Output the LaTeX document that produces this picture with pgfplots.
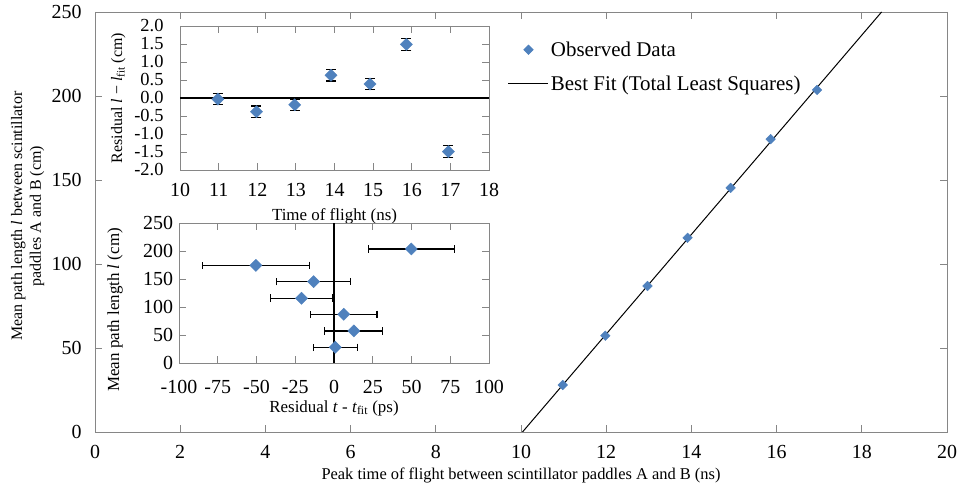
\documentclass[border=0pt]{standalone}
\usepackage{fontspec}
\setmainfont{Liberation Serif}
\usepackage{pgfplots}
\usepackage{pgfplotstable}
\pgfplotsset{compat=1.18}
\definecolor{obs}{RGB}{79,129,189}
\definecolor{framec}{RGB}{134,134,134}

\pgfplotstableread{
t l
10.98 28.0
11.98 57.3
12.97 86.9
13.91 115.6
14.92 145.3
15.86 174.3
16.95 203.6
}\maindata

\pgfplotstableread{
t res
10.98 -0.03
11.98 -0.38
12.97 -0.19
13.91 0.63
14.92 0.39
15.86 1.49
16.95 -1.49
}\resl

\pgfplotstableread{
r l e
0.8 28.0 14.2
12.8 57.3 18.7
6.3 86.9 21.5
-21.0 115.6 19.8
-13.2 145.3 24.0
-50.4 174.3 34.6
49.9 203.6 27.6
}\rest

\pgfplotsset{
  myaxis/.style={
    scale only axis,
    anchor=south west,
    axis line style={framec, line width=0.8bp},
    major tick style={framec, line width=0.8bp},
    tick align=inside,
    major tick length=7bp,
    minor tick num=0,
    /pgf/number format/assume math mode=true,
    tick label style={font=\fontsize{20}{24}\selectfont},
  }
}

\begin{document}
\begin{tikzpicture}
\useasboundingbox (0,0) rectangle (961bp,486bp);

% main axis
\begin{axis}[myaxis,
  at={(95bp,54bp)}, width=852bp, height=420bp,
  xmin=0, xmax=20, ymin=0, ymax=250,
  xtick={0,2,...,20}, ytick={0,50,...,250},
  xticklabel style={yshift=-10bp},
  yticklabel style={xshift=-10bp},
  xlabel={Peak time of flight between scintillator paddles A and B (ns)},
  xlabel style={font=\fontsize{16.5}{20}\selectfont, at={(axis description cs:0.5,0)}, anchor=base, yshift=-47bp},
  ylabel={Mean path length \textit{l} between scintillator\\paddles A and B (cm)},
  ylabel style={font=\fontsize{16}{19}\selectfont, align=center, at={(axis description cs:-0.079,0.514)}, anchor=center},
  legend style={draw=none, fill=none, at={(axis description cs:0.4845,0.9345)}, anchor=north west,
    inner xsep=0pt, inner ysep=0pt, row sep=14bp, font=\fontsize{21}{25}\selectfont, cells={anchor=west}},
  legend image code/.code={\draw[mark repeat=2,mark phase=2,#1] plot coordinates {(0bp,0bp) (20bp,0bp) (40bp,0bp)};},
]
\addplot[only marks, mark=square*, mark size=3.4bp, mark options={rotate=45, fill=obs, draw=obs},
  error bars/.cd, x dir=both, y dir=both, x fixed=0.02, y fixed=0.16,
  error bar style={obs, line width=0.8bp}, error mark options={rotate=90, obs, mark size=3bp, line width=0.8bp}]
  table[x=t, y=l]{\maindata};
\addlegendentry{Observed Data}
\addplot[black, line width=1bp] coordinates {(10.035,0) (18.464,250)};
\addlegendentry{Best Fit (Total Least Squares)}
\end{axis}

% inset 1: residual in l
\begin{axis}[myaxis,
  at={(180bp,316bp)}, width=309bp, height=144bp,
  xmin=10, xmax=18, ymin=-2, ymax=2,
  xtick={10,11,...,18}, ytick={-2,-1.5,-1,-0.5,0,0.5,1,1.5,2},
  xticklabel style={yshift=-10bp},
  yticklabel style={font=\fontsize{18.5}{20}\selectfont, xshift=-13bp, /pgf/number format/.cd, fixed, fixed zerofill, precision=1},
  xlabel={Time of flight (ns)},
  xlabel style={font=\fontsize{17}{20}\selectfont, at={(axis description cs:0.5,0)}, anchor=base, yshift=-50.5bp},
  ylabel={Residual \textit{l} − \textit{l}\textsubscript{fit} (cm)},
  ylabel style={font=\fontsize{16}{19}\selectfont, at={(axis description cs:-0.2,0.5)}, anchor=center},
]
\addplot[black, line width=1.2bp] coordinates {(10,0) (18,0)};
\addplot[only marks, mark=square*, mark size=4.3bp, mark options={rotate=45, fill=obs, draw=obs},
  error bars/.cd, y dir=both, y fixed=0.16,
  error bar style={black, line width=1.2bp}, error mark options={rotate=90, black, mark size=5bp, line width=1.2bp}]
  table[x=t, y=res]{\resl};
\end{axis}

% inset 2: residual in t
\begin{axis}[myaxis,
  at={(179bp,123bp)}, width=310bp, height=140bp,
  xmin=-100, xmax=100, ymin=0, ymax=250,
  xtick={-100,-75,...,100}, ytick={0,50,...,250},
  xticklabel style={yshift=-13.5bp},
  yticklabel style={xshift=-2.5bp},
  xlabel={Residual \textit{t} - \textit{t}\textsubscript{fit} (ps)},
  xlabel style={font=\fontsize{17}{20}\selectfont, at={(axis description cs:0.5,0)}, anchor=base, yshift=-49bp},
  ylabel={Mean path length \textit{l} (cm)},
  ylabel style={font=\fontsize{17}{20}\selectfont, at={(axis description cs:-0.206,0.379)}, anchor=center},
]
\addplot[black, line width=1.2bp] coordinates {(0,0) (0,250)};
\addplot[only marks, mark=square*, mark size=4.3bp, mark options={rotate=45, fill=obs, draw=obs},
  error bars/.cd, x dir=both, x explicit,
  error bar style={black, line width=1.2bp}, error mark options={rotate=90, black, mark size=3.8bp, line width=1.2bp}]
  table[x=r, y=l, x error=e]{\rest};
\end{axis}
\end{tikzpicture}
\end{document}
